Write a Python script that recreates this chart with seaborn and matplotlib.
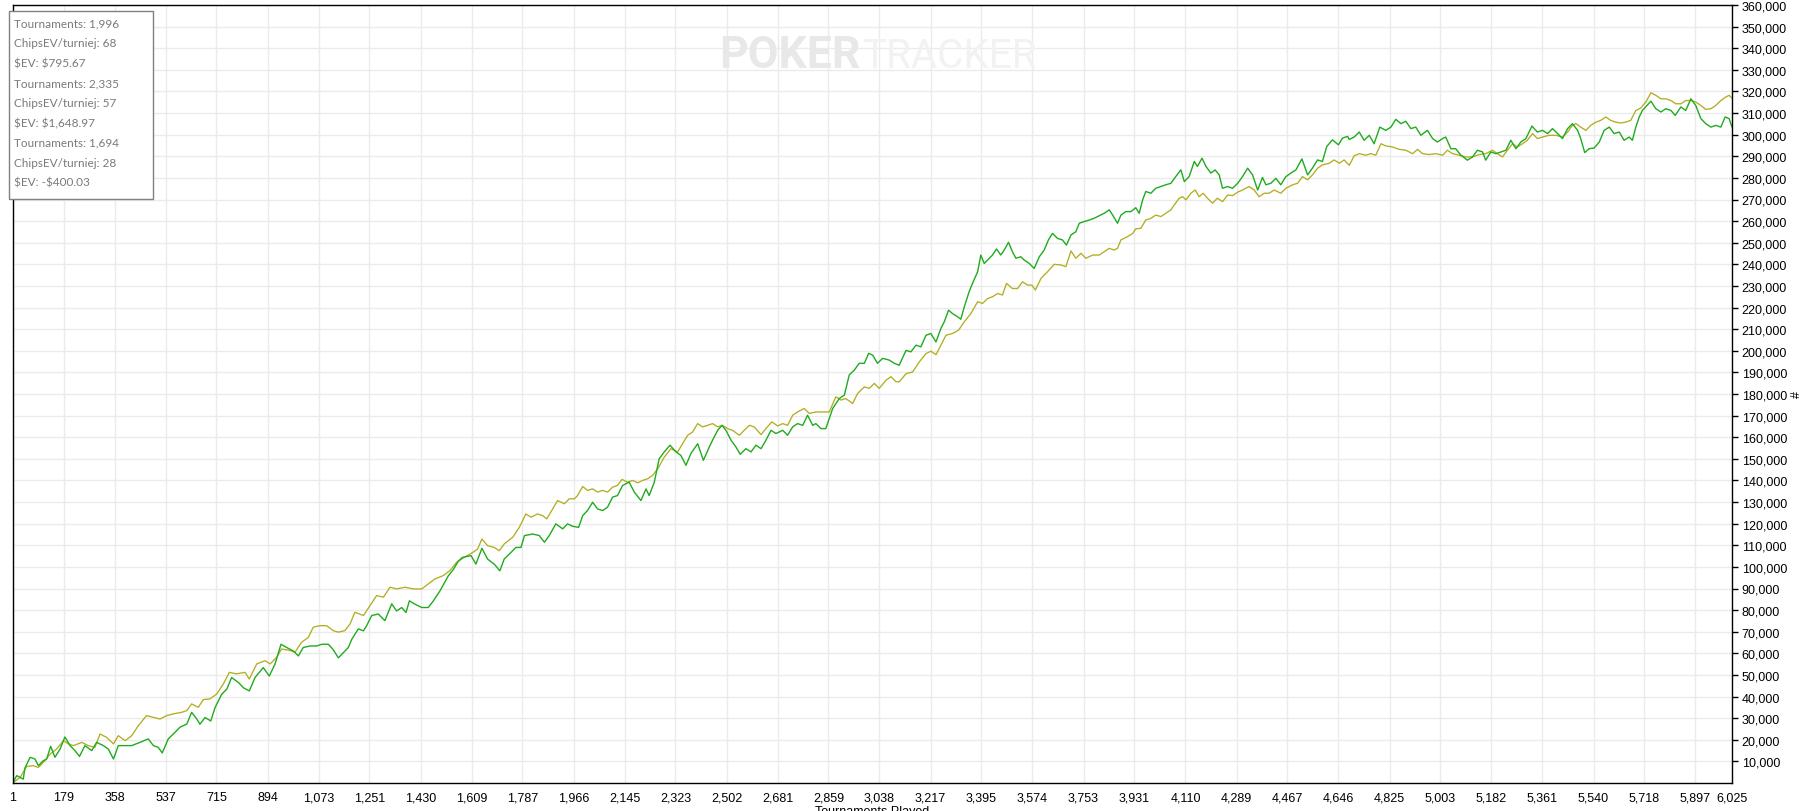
import numpy as np
import pandas as pd
import matplotlib
matplotlib.use("Agg")
import matplotlib.pyplot as plt
import seaborn as sns
from matplotlib.patches import Rectangle

# ---------------- data ----------------
won_t = [1, 15, 27, 38, 44, 62, 79, 91, 108, 120, 134, 149, 167, 184, 202, 219, 235, 254, 278, 295,
         319, 336, 354, 371, 395, 418, 447, 476, 494, 511, 525, 546, 564, 587, 611, 628, 646, 657, 675, 695,
         710, 733, 751, 768, 792, 809, 830, 850, 879, 900, 920, 941, 961, 984, 1002, 1019, 1043, 1066, 1084, 1107,
         1124, 1142, 1159, 1177, 1189, 1212, 1230, 1241, 1259, 1282, 1305, 1329, 1346, 1364, 1379, 1391, 1411, 1434, 1457, 1475,
         1498, 1527, 1545, 1562, 1577, 1607, 1624, 1645, 1665, 1688, 1708, 1723, 1747, 1764, 1782, 1794, 1823, 1846, 1864, 1881,
         1904, 1928, 1945, 1963, 1984, 1998, 2015, 2033, 2050, 2068, 2085, 2103, 2120, 2138, 2161, 2179, 2202, 2220, 2231, 2249,
         2266, 2284, 2304, 2325, 2342, 2360, 2377, 2401, 2421, 2439, 2453, 2471, 2486, 2500, 2518, 2535, 2550, 2570, 2588, 2605,
         2623, 2640, 2658, 2675, 2699, 2716, 2734, 2751, 2769, 2786, 2804, 2815, 2833, 2850, 2874, 2897, 2915, 2932, 2950, 2967,
         2985, 3000, 3014, 3031, 3049, 3072, 3090, 3107, 3131, 3148, 3166, 3183, 3201, 3218, 3236, 3253, 3265, 3280, 3294, 3312,
         3323, 3335, 3352, 3364, 3382, 3393, 3405, 3423, 3434, 3448, 3463, 3475, 3490, 3504, 3516, 3533, 3545, 3563, 3580, 3598,
         3615, 3630, 3644, 3662, 3679, 3693, 3709, 3726, 3738, 3755, 3773, 3790, 3808, 3825, 3843, 3855, 3872, 3884, 3901, 3919,
         3936, 3948, 3960, 3971, 3989, 4006, 4024, 4041, 4059, 4076, 4094, 4106, 4123, 4141, 4152, 4168, 4182, 4199, 4214, 4228,
         4240, 4258, 4275, 4293, 4310, 4328, 4345, 4363, 4380, 4392, 4409, 4427, 4444, 4462, 4479, 4497, 4518, 4538, 4555, 4573,
         4590, 4605, 4625, 4646, 4660, 4678, 4684, 4701, 4719, 4736, 4754, 4771, 4791, 4812, 4830, 4847, 4865, 4882, 4900, 4917,
         4935, 4958, 4976, 4993, 5011, 5022, 5040, 5057, 5075, 5098, 5116, 5133, 5151, 5162, 5180, 5198, 5215, 5233, 5250, 5268,
         5285, 5303, 5324, 5343, 5361, 5379, 5396, 5414, 5431, 5449, 5466, 5484, 5495, 5509, 5524, 5542, 5560, 5577, 5595, 5612,
         5630, 5647, 5665, 5676, 5688, 5700, 5711, 5727, 5741, 5758, 5776, 5793, 5811, 5826, 5846, 5863, 5881, 5898, 5916, 5933,
         5951, 5968, 5986, 6001, 6015, 6025]
won_k = [0.0, 3.4, 2.6, 1.8, 7.0, 11.9, 11.1, 8.0, 10.3, 11.1, 17.0, 11.9, 15.7, 21.3, 17.3, 15.0, 12.3, 17.3, 15.0, 18.8,
         17.3, 15.7, 11.1, 17.3, 17.3, 17.3, 18.8, 20.4, 17.3, 16.5, 13.9, 20.4, 22.7, 25.8, 27.3, 32.7, 29.6, 27.2, 30.3, 28.7,
         34.9, 41.0, 43.4, 48.8, 46.5, 44.1, 42.6, 48.8, 53.4, 49.5, 55.0, 64.2, 62.7, 61.1, 58.8, 62.7, 63.4, 63.4, 64.2, 64.2,
         61.7, 57.9, 60.2, 62.7, 66.5, 71.3, 70.4, 72.8, 77.5, 78.2, 75.1, 82.9, 79.6, 81.2, 78.9, 84.3, 82.7, 81.2, 81.2, 84.3,
         88.9, 95.8, 98.8, 102.6, 104.4, 105.2, 101.3, 108.6, 103.6, 101.3, 98.2, 103.6, 106.7, 109.0, 109.0, 114.5, 115.2, 114.5, 111.4, 114.5,
         119.9, 117.6, 119.9, 118.8, 118.3, 123.7, 126.1, 129.9, 126.8, 126.1, 127.6, 132.3, 133.0, 137.7, 139.2, 134.6, 130.7, 136.1, 133.0, 139.2,
         150.0, 153.2, 156.3, 153.2, 151.6, 147.0, 152.4, 157.0, 149.3, 154.7, 158.6, 163.2, 165.5, 163.2, 158.6, 155.5, 152.1, 154.7, 153.2, 156.3,
         154.7, 158.6, 163.2, 161.7, 163.2, 160.9, 164.8, 166.3, 165.5, 170.2, 165.5, 166.3, 164.0, 164.0, 173.3, 177.9, 179.5, 188.8, 191.1, 194.2,
         194.2, 198.8, 198.0, 194.2, 196.5, 195.7, 194.2, 193.3, 200.2, 199.5, 202.6, 201.8, 207.2, 208.0, 204.1, 210.3, 213.4, 218.8, 217.2, 215.7,
         214.6, 220.3, 227.3, 231.2, 236.6, 244.3, 240.4, 242.8, 244.3, 247.1, 244.3, 246.6, 250.2, 245.8, 242.8, 243.5, 242.0, 240.4, 238.1, 243.5,
         246.6, 251.3, 254.3, 252.0, 251.3, 248.9, 253.6, 255.1, 259.0, 259.8, 260.5, 261.3, 262.5, 263.6, 265.2, 262.8, 259.0, 262.8, 264.4, 264.4,
         266.2, 263.6, 269.8, 273.7, 272.9, 275.2, 276.0, 276.8, 277.5, 280.6, 283.7, 278.3, 280.6, 287.6, 285.3, 289.1, 285.3, 282.2, 283.7, 281.4,
         275.2, 276.0, 275.2, 277.5, 280.6, 284.5, 281.4, 274.4, 280.2, 276.8, 277.5, 279.8, 276.8, 280.6, 282.2, 283.7, 288.8, 281.4, 284.5, 288.3,
         287.6, 294.5, 297.6, 295.3, 298.4, 299.2, 297.8, 298.9, 301.2, 297.4, 299.7, 295.8, 303.5, 302.0, 303.5, 307.1, 305.1, 306.2, 302.8, 303.5,
         299.7, 302.0, 298.2, 296.6, 298.2, 298.9, 293.5, 293.5, 290.5, 288.2, 289.7, 292.8, 292.0, 288.2, 292.0, 291.2, 292.0, 292.8, 297.4, 293.5,
         296.6, 298.2, 304.0, 301.2, 302.0, 300.5, 302.8, 300.5, 298.2, 302.8, 305.1, 302.0, 298.2, 291.7, 293.5, 293.8, 296.6, 302.0, 303.5, 300.5,
         301.2, 297.4, 298.9, 297.4, 303.5, 308.2, 311.2, 313.5, 315.5, 312.0, 310.5, 312.0, 311.2, 308.9, 312.8, 311.2, 316.6, 313.5, 307.4, 305.1,
         303.5, 304.3, 303.5, 308.2, 307.4, 303.5]

ev_t = [1, 27, 50, 73, 91, 114, 132, 155, 179, 196, 214, 243, 266, 289, 307, 330, 354, 371, 395, 418,
        441, 470, 494, 517, 541, 564, 593, 611, 628, 651, 669, 692, 716, 739, 760, 785, 815, 830, 856, 885,
        903, 926, 943, 973, 990, 1013, 1037, 1054, 1078, 1101, 1124, 1142, 1165, 1183, 1200, 1230, 1253, 1276, 1300, 1323,
        1346, 1375, 1405, 1434, 1457, 1480, 1510, 1533, 1557, 1583, 1613, 1630, 1645, 1665, 1688, 1706, 1723, 1753, 1776, 1799,
        1817, 1840, 1858, 1872, 1893, 1910, 1934, 1951, 1969, 1980, 1998, 2015, 2033, 2050, 2068, 2085, 2103, 2120, 2136, 2155,
        2173, 2191, 2208, 2226, 2243, 2261, 2284, 2307, 2331, 2348, 2366, 2383, 2401, 2418, 2436, 2453, 2471, 2488, 2506, 2523,
        2547, 2564, 2582, 2599, 2623, 2640, 2661, 2681, 2699, 2716, 2734, 2751, 2774, 2792, 2815, 2839, 2862, 2885, 2903, 2920,
        2944, 2961, 2985, 3002, 3020, 3037, 3061, 3078, 3096, 3107, 3131, 3154, 3177, 3201, 3218, 3236, 3253, 3271, 3294, 3315,
        3335, 3358, 3382, 3399, 3417, 3434, 3452, 3469, 3483, 3504, 3522, 3539, 3557, 3572, 3584, 3604, 3627, 3650, 3674, 3691,
        3709, 3726, 3744, 3761, 3785, 3808, 3825, 3843, 3860, 3872, 3884, 3907, 3925, 3936, 3954, 3971, 3989, 4006, 4024, 4041,
        4059, 4071, 4088, 4100, 4112, 4129, 4144, 4158, 4172, 4187, 4205, 4222, 4240, 4258, 4275, 4293, 4310, 4333, 4351, 4368,
        4386, 4403, 4421, 4444, 4462, 4485, 4503, 4520, 4538, 4555, 4573, 4590, 4614, 4631, 4649, 4666, 4684, 4701, 4719, 4742,
        4760, 4777, 4795, 4812, 4836, 4859, 4882, 4906, 4923, 4941, 4964, 4987, 5011, 5028, 5046, 5069, 5092, 5116, 5139, 5162,
        5186, 5203, 5221, 5238, 5256, 5273, 5291, 5308, 5326, 5343, 5361, 5384, 5408, 5431, 5449, 5464, 5478, 5495, 5513, 5530,
        5548, 5565, 5583, 5600, 5618, 5635, 5653, 5670, 5688, 5705, 5723, 5741, 5758, 5776, 5793, 5811, 5828, 5846, 5863, 5881,
        5898, 5916, 5933, 5951, 5968, 5986, 6003, 6015, 6025]
ev_k = [0.0, 2.6, 7.7, 8.0, 7.2, 10.3, 13.4, 15.7, 19.6, 18.1, 17.3, 18.8, 17.3, 16.5, 22.7, 21.1, 18.1, 21.9, 19.6, 21.9,
        26.5, 31.2, 30.4, 29.6, 31.2, 32.0, 32.7, 33.5, 36.6, 35.0, 38.6, 38.9, 41.2, 45.8, 51.2, 50.5, 51.2, 48.1, 55.1, 56.6,
        55.1, 58.2, 62.0, 61.3, 60.5, 65.1, 67.4, 72.1, 72.8, 72.8, 70.5, 69.8, 70.5, 73.6, 79.0, 77.5, 82.1, 86.7, 86.0, 90.6,
        89.8, 90.6, 89.8, 89.8, 92.1, 94.4, 96.0, 98.3, 102.2, 104.4, 106.7, 108.3, 112.9, 109.8, 109.0, 107.5, 110.6, 113.7, 118.3, 124.5,
        123.0, 124.5, 123.7, 122.2, 126.8, 130.7, 129.2, 131.5, 131.5, 133.0, 137.2, 135.4, 136.1, 134.6, 135.4, 134.6, 136.9, 137.7, 140.5, 139.2,
        140.0, 138.9, 140.0, 140.8, 142.3, 145.4, 150.8, 154.7, 153.2, 157.0, 160.9, 162.4, 166.3, 164.8, 165.5, 166.3, 164.8, 165.5, 164.0, 163.2,
        160.9, 163.2, 165.5, 164.8, 161.2, 164.0, 167.1, 165.2, 166.3, 165.5, 170.2, 171.7, 173.3, 171.0, 171.7, 171.7, 171.7, 178.7, 177.2, 177.9,
        175.6, 180.2, 183.3, 182.6, 184.9, 182.6, 186.4, 188.0, 185.7, 185.6, 189.4, 190.2, 194.8, 198.7, 199.8, 198.2, 202.6, 207.2, 208.0, 209.5,
        213.4, 217.2, 222.7, 221.9, 224.2, 225.0, 226.5, 225.8, 231.2, 228.8, 228.8, 231.9, 230.4, 230.4, 228.1, 233.5, 236.6, 240.0, 239.7, 238.9,
        246.2, 242.8, 245.1, 242.8, 244.3, 244.3, 245.8, 247.4, 246.6, 247.4, 251.3, 252.8, 254.3, 256.4, 256.7, 260.5, 261.3, 262.8, 262.1, 263.6,
        265.2, 267.5, 270.6, 271.3, 269.8, 272.9, 274.4, 271.3, 272.9, 270.6, 268.3, 270.6, 269.0, 272.1, 271.8, 273.4, 274.4, 276.0, 274.4, 271.3,
        272.9, 272.9, 274.4, 272.9, 275.2, 276.8, 277.5, 280.6, 279.1, 281.4, 284.5, 286.0, 286.8, 288.3, 286.8, 288.3, 285.8, 290.2, 291.2, 290.5,
        291.2, 290.5, 295.8, 294.8, 294.3, 293.2, 292.8, 291.2, 293.2, 291.2, 290.8, 291.2, 290.5, 292.8, 291.2, 290.5, 289.7, 289.7, 290.8, 291.2,
        292.8, 291.2, 289.7, 292.8, 295.8, 294.3, 295.8, 297.4, 300.5, 298.2, 298.9, 299.7, 299.7, 298.9, 301.2, 304.0, 305.1, 303.5, 302.0, 304.3,
        305.8, 306.6, 308.2, 306.6, 305.8, 305.4, 305.8, 306.6, 311.2, 312.3, 315.1, 319.4, 318.2, 316.6, 316.6, 315.8, 314.3, 314.3, 315.8, 315.8,
        315.1, 313.5, 311.7, 312.0, 313.5, 315.8, 317.4, 318.2, 316.9]

x_ticks = [1, 179, 358, 537, 715, 894, 1073, 1251, 1430, 1609, 1787, 1966, 2145, 2323, 2502, 2681, 2859,
           3038, 3217, 3395, 3574, 3753, 3931, 4110, 4289, 4467, 4646, 4825, 5003, 5182, 5361, 5540, 5718,
           5897, 6025]
y_ticks = list(range(10000, 360001, 10000))

legend_lines = ["Tournaments: 1,996", "ChipsEV/turniej: 68", "$EV: $795.67",
                "Tournaments: 2,335", "ChipsEV/turniej: 57", "$EV: $1,648.97",
                "Tournaments: 1,694", "ChipsEV/turniej: 28", "$EV: -$400.03"]

won_df = pd.DataFrame({"t": won_t, "chips": np.array(won_k) * 1000})
ev_df = pd.DataFrame({"t": ev_t, "chips": np.array(ev_k) * 1000})

# ---------------- figure ----------------
sns.set_style("white")
plt.rcParams["font.family"] = ["Liberation Sans", "DejaVu Sans"]

W, H = 1812, 812
fig = plt.figure(figsize=(W / 100, H / 100), dpi=100)
L, R, T, B = 12.7, 1732, 6, 784
ax = fig.add_axes([L / W, 1 - B / H, (R - L) / W, (B - T) / H])

sns.lineplot(data=ev_df, x="t", y="chips", ax=ax, color="#b3ad22", lw=0.95,
             estimator=None, sort=False)
sns.lineplot(data=won_df, x="t", y="chips", ax=ax, color="#1fab1f", lw=1.0,
             estimator=None, sort=False)

ax.set_xlim(1, 6025)
ax.set_ylim(0, 360000)
ax.set_xticks(x_ticks)
ax.set_xticklabels([f"{v:,}" for v in x_ticks])
ax.set_yticks(y_ticks)
ax.set_yticklabels([f"{v:,}" for v in y_ticks])
ax.yaxis.tick_right()
ax.set_xlabel("")
ax.set_ylabel("")
ax.grid(True, color="#ebebeb", lw=1.0)
ax.set_axisbelow(True)
for s in ax.spines.values():
    s.set_visible(True)
    s.set_color("black")
    s.set_linewidth(1.0)
ax.tick_params(axis="x", direction="out", length=4, width=1, pad=2, labelsize=9, colors="black")
ax.tick_params(axis="y", direction="out", length=4, width=1, pad=3, labelsize=9, colors="black",
               right=True, left=False, labelright=True, labelleft=False)

# watermark
fig.text(860 / W, 1 - 56 / H, "POKER", ha="right", va="center", fontsize=32,
         fontweight="bold", color="#e8e8e8", family=["Roboto", "DejaVu Sans"], zorder=0)
fig.text(862 / W, 1 - 56 / H, "TRACKER", ha="left", va="center", fontsize=29,
         color="#f2f2f2", family=["Roboto", "DejaVu Sans"], zorder=0)

# info box
fig.patches.append(Rectangle((9.3 / W, 1 - 200 / H), (153 - 9.3) / W, (200 - 11.7) / H,
                             transform=fig.transFigure, fill=True, facecolor="white",
                             edgecolor="#808080", lw=1.0, zorder=5))
for i, line in enumerate(legend_lines):
    fig.text(14 / W, 1 - (24 + i * 19.9) / H, line.replace("$", r"\$"), ha="left", va="center",
             fontsize=8.5, color="#7a7a7a", family=["Lato", "DejaVu Sans"], zorder=6)

# axis labels (x label is cut off at the bottom edge, as in the original)
fig.text((L + R) / 2 / W, 1 - 806 / H, "Tournaments Played", ha="center", va="top",
         fontsize=9, color="black")
fig.text(1797 / W, 1 - 395 / H, "#", ha="center", va="center", fontsize=9, rotation=90,
         color="black")

fig.savefig("out.png", dpi=100)
